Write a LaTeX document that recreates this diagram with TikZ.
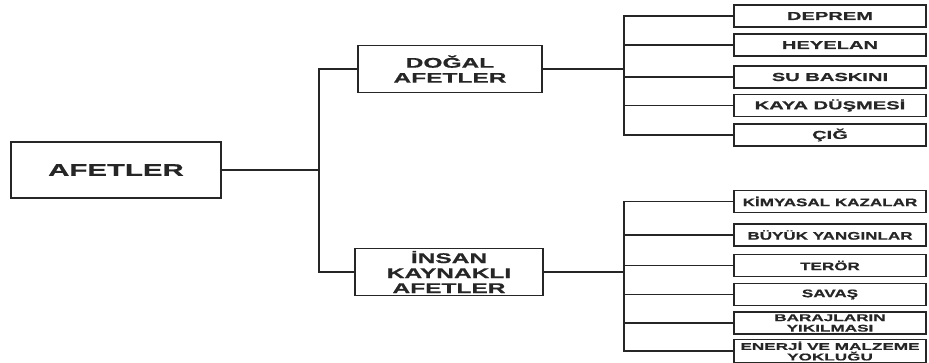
\documentclass[tikz,border=0pt]{standalone}
\usepackage{fontspec}
\setmainfont{Liberation Sans}
\newfontfamily\genis{Liberation Sans Bold}[FakeStretch=1.75,FakeBold=0.8]
\newfontfamily\dar{Liberation Sans Bold}[FakeStretch=1.55,FakeBold=0.8]

\tikzset{
    kutu/.style={draw=black!85, line width=1.5pt, inner sep=0pt, align=center, text=black!85},
    ana/.style={kutu, minimum width=210pt, minimum height=56pt, font=\genis\fontsize{16.8}{18}\selectfont},
    orta/.style={kutu, minimum height=47pt, font=\genis\fontsize{14}{15}\selectfont},
    yaprak/.style={kutu, minimum width=192pt, minimum height=22pt, font=\genis\fontsize{11.5}{12}\selectfont},
    yaprakdar/.style={yaprak, font=\dar\fontsize{11}{12}\selectfont},
    ikili/.style={yaprak, font=\genis\fontsize{9.8}{10.5}\selectfont},
    dal/.style={draw=black!85, line width=1.3pt},
}

\begin{document}
\begin{tikzpicture}[x=1pt,y=-1pt]
    \useasboundingbox (0,0) rectangle (929,362);

    % Boxes
    \node[ana] (afetler) at (116,170) {AFETLER};
    \node[orta, minimum width=184pt] (dogal) at (450,69) {DOĞAL\\AFETLER};
    \node[orta, minimum width=188pt] (insan) at (449,272) {İNSAN\\KAYNAKLI\\AFETLER};

    \node[yaprak] (deprem) at (830,16) {DEPREM};
    \node[yaprak] (heyelan) at (830,45) {HEYELAN};
    \node[yaprak] (su) at (830,77) {SU BASKINI};
    \node[yaprak] (kaya) at (830,105.5) {KAYA DÜŞMESİ};
    \node[yaprak] (cig) at (830,135) {ÇIĞ};

    \node[yaprakdar] (kimya) at (830,201.5) {KİMYASAL KAZALAR};
    \node[yaprakdar] (yangin) at (830,235) {BÜYÜK YANGINLAR};
    \node[yaprakdar] (teror) at (830,265.5) {TERÖR};
    \node[yaprakdar] (savas) at (830,294.5) {SAVAŞ};
    \node[ikili] (baraj) at (830,323) {BARAJLARIN\\YIKILMASI};
    \node[ikili, minimum height=23pt] (enerji) at (830,351) {ENERJİ VE MALZEME\\YOKLUĞU};

    % Lines
    \coordinate (k1) at (319,170);
    \coordinate (k2) at (624,69);
    \coordinate (k3) at (624,272);

    \draw[dal] (afetler.east) -- (k1);
    \draw[dal] (dogal.west) -| (k1);
    \draw[dal] (insan.west) -| (k1);

    \draw[dal] (dogal.east) -- (k2);
    \draw[dal] (deprem.west) -| (k2);
    \draw[dal] (heyelan.west) -| (k2);
    \draw[dal] (su.west) -| (k2);
    \draw[dal] (kaya.west) -| (k2);
    \draw[dal] (cig.west) -| (k2);

    \draw[dal] (insan.east) -- (k3);
    \draw[dal] (kimya.west) -| (k3);
    \draw[dal] (yangin.west) -| (k3);
    \draw[dal] (teror.west) -| (k3);
    \draw[dal] (savas.west) -| (k3);
    \draw[dal] (baraj.west) -| (k3);
    \draw[dal] (enerji.west) -| (k3);

\end{tikzpicture}
\end{document}
